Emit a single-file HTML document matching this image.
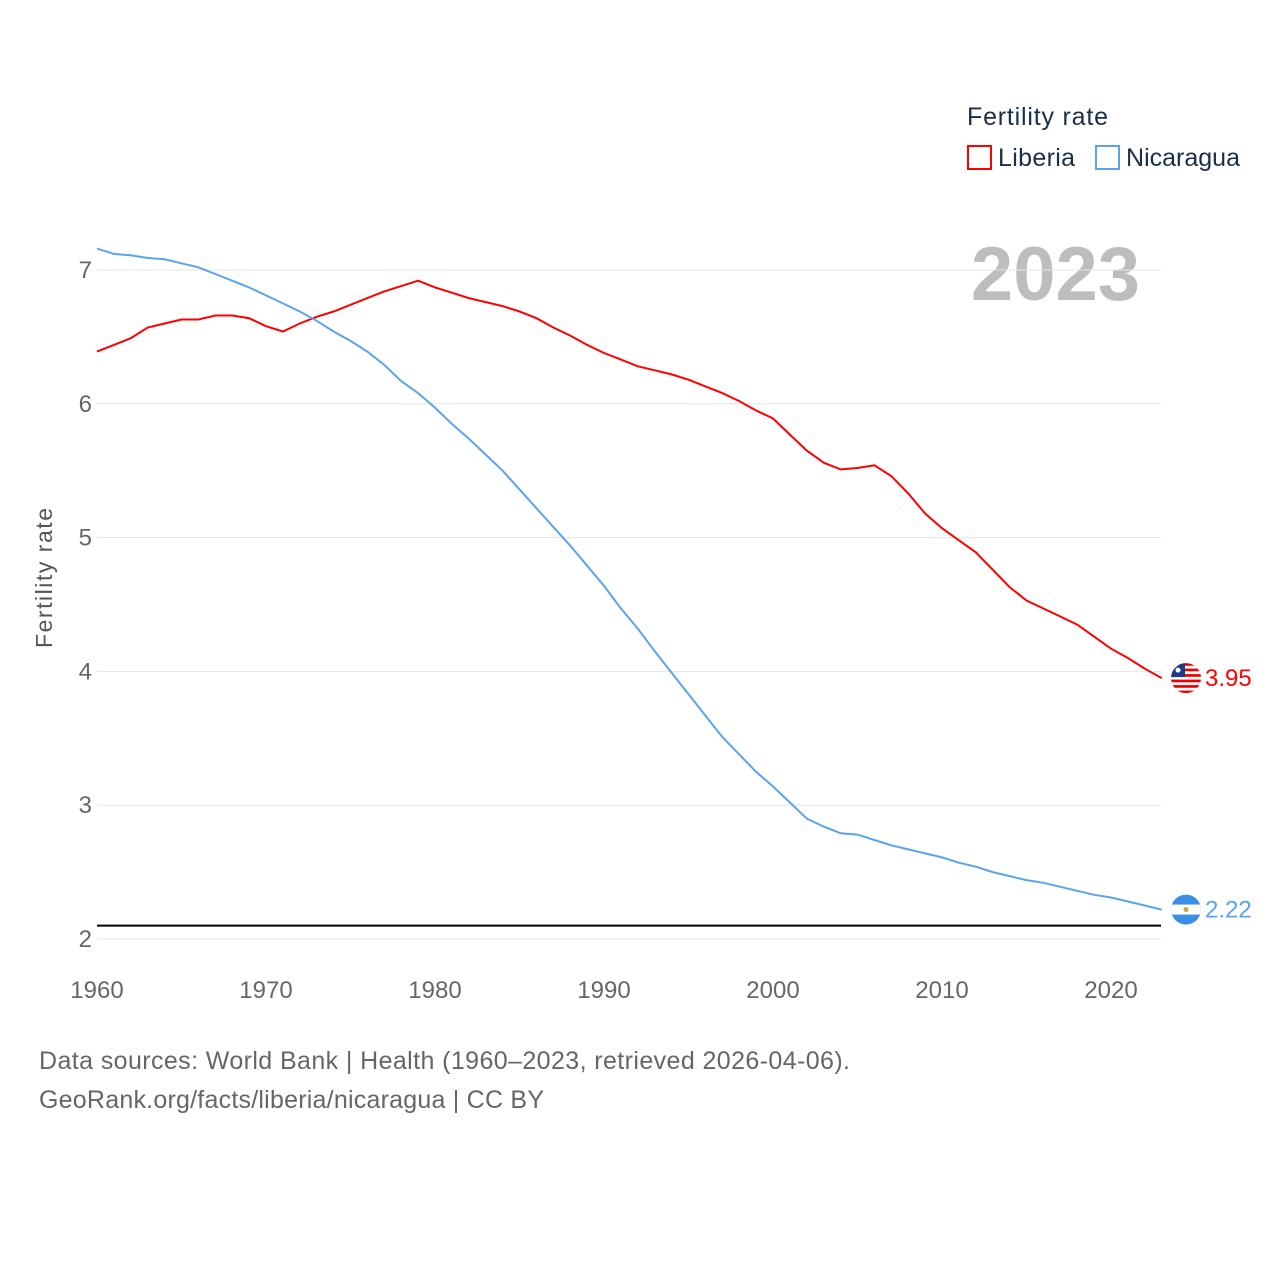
<!DOCTYPE html>
<html><head><meta charset="utf-8">
<style>
body{margin:0;background:#fff;font-family:"Liberation Sans",sans-serif;}
svg text{font-family:"Liberation Sans",sans-serif;}
</style></head>
<body>
<svg id="chart" width="1280" height="1280" xmlns="http://www.w3.org/2000/svg">
<defs>
<clipPath id="clipL"><circle cx="1186" cy="0" r="15" id="clipLc"/></clipPath>
<clipPath id="clipN"><circle cx="1186" cy="0" r="15" id="clipNc"/></clipPath>
</defs>
<rect width="1280" height="1280" fill="#fff"/>
<text x="967" y="125" font-size="25" fill="#1a2e4a" textLength="141">Fertility rate</text>
<g><rect x="968" y="146" width="23" height="23" fill="none" stroke="#f00" stroke-width="2"/><text x="998" y="166" font-size="25" fill="#1a2e4a" textLength="77">Liberia</text></g>
<g><rect x="1096" y="146" width="23" height="23" fill="none" stroke="#5ba4ea" stroke-width="2"/><text x="1126" y="166" font-size="25" fill="#1a2e4a" textLength="114">Nicaragua</text></g>
<text x="1140" y="300" font-size="76" font-weight="bold" fill="#bdbdbd" text-anchor="end">2023</text>
<text transform="translate(52,578) rotate(-90)" font-size="23" fill="#555" text-anchor="middle" textLength="140">Fertility rate</text>
<g id="grid"></g><g id="marks"></g>
<text x="39" y="1069" font-size="25" fill="#666" textLength="811">Data sources: World Bank | Health (1960–2023, retrieved 2026-04-06).</text>
<text x="39" y="1108" font-size="25" fill="#666" textLength="505">GeoRank.org/facts/liberia/nicaragua | CC BY</text>
</svg>
<script>
const years=[];for(let y=1960;y<=2023;y++)years.push(y);
const liberia=[6.39,6.44,6.49,6.57,6.60,6.63,6.63,6.66,6.66,6.64,6.58,6.54,6.60,6.65,6.69,6.74,6.79,6.84,6.88,6.92,6.87,6.83,6.79,6.76,6.73,6.69,6.64,6.57,6.51,6.44,6.38,6.33,6.28,6.25,6.22,6.18,6.13,6.08,6.02,5.95,5.89,5.77,5.65,5.56,5.51,5.52,5.54,5.46,5.33,5.18,5.07,4.98,4.89,4.76,4.63,4.53,4.47,4.41,4.35,4.26,4.17,4.10,4.02,3.95];
const nicaragua=[7.16,7.12,7.11,7.09,7.08,7.05,7.02,6.97,6.92,6.87,6.81,6.75,6.69,6.62,6.54,6.47,6.39,6.29,6.17,6.08,5.97,5.85,5.74,5.62,5.50,5.36,5.22,5.08,4.94,4.79,4.64,4.47,4.32,4.15,3.99,3.83,3.67,3.51,3.38,3.25,3.14,3.02,2.90,2.84,2.79,2.78,2.74,2.70,2.67,2.64,2.61,2.57,2.54,2.50,2.47,2.44,2.42,2.39,2.36,2.33,2.31,2.28,2.25,2.22];
const yTicks=[2,3,4,5,6,7];
const xTicks=[1960,1970,1980,1990,2000,2010,2020];
const replacement=2.1;
const X=y=>97+(y-1960)*(1111-97)/60;
const Y=v=>939-(v-2)*133.8;
const NS="http://www.w3.org/2000/svg";
function mk(t,a,p){const e=document.createElementNS(NS,t);for(const k in a)e.setAttribute(k,a[k]);p.appendChild(e);return e;}
const grid=document.getElementById('grid'),marks=document.getElementById('marks');
yTicks.forEach(v=>{
 const l=mk('line',{x1:97,x2:1161,y1:Y(v),y2:Y(v),stroke:'#e6e6e6','stroke-width':1},grid);
 
 
 const t=mk('text',{x:92,y:Y(v)+8,'font-size':24,fill:'#666','text-anchor':'end'},grid);t.textContent=v;
 
 
});
xTicks.forEach(v=>{
 const t=mk('text',{x:X(v),y:998,'font-size':24,fill:'#666','text-anchor':'middle'},grid);t.textContent=v;
 
 
});
const rl=mk('line',{x1:97,x2:1161,y1:Y(replacement),y2:Y(replacement),stroke:'#000','stroke-width':2},marks);


function series(vals,color,name,flag){
 const p=mk('path',{d:vals.map((v,i)=>(i?'L':'M')+X(years[i]).toFixed(1)+','+Y(v).toFixed(1)).join(''),fill:'none',stroke:color,'stroke-width':2},marks);
 
 
 const last=vals[vals.length-1],cy=Y(last);
 document.getElementById(flag+'c').setAttribute('cy',cy);
 const g=mk('g',{'clip-path':'url(#'+flag+')'},marks);
 
 
 if(name==='liberia'){
  mk('rect',{x:1171,y:cy-15,width:30,height:30,fill:'#fff'},g);
  for(let i=0;i<6;i++)mk('rect',{x:1171,y:cy-15+i*5.5,width:30,height:2.7,fill:'#e00'},g);
  mk('rect',{x:1171,y:cy-15,width:14,height:14,fill:'#1a3a8a'},g);
  mk('circle',{cx:1178,cy:cy-8,r:2.5,fill:'#fff'},g);
 }else{
  mk('rect',{x:1171,y:cy-15,width:30,height:30,fill:'#3a8ee6'},g);
  mk('rect',{x:1171,y:cy-5,width:30,height:10,fill:'#fff'},g);
  mk('circle',{cx:1186,cy:cy,r:2.5,fill:'#c8a84a'},g);
 }
 const t=mk('text',{x:1205,y:cy+8,'font-size':24,fill:color},marks);t.textContent=last.toFixed(2);
 
 
}
series(liberia,'#ff0000','liberia','clipL');
series(nicaragua,'#5ba4ea','nicaragua','clipN');
</script>
</body></html>
